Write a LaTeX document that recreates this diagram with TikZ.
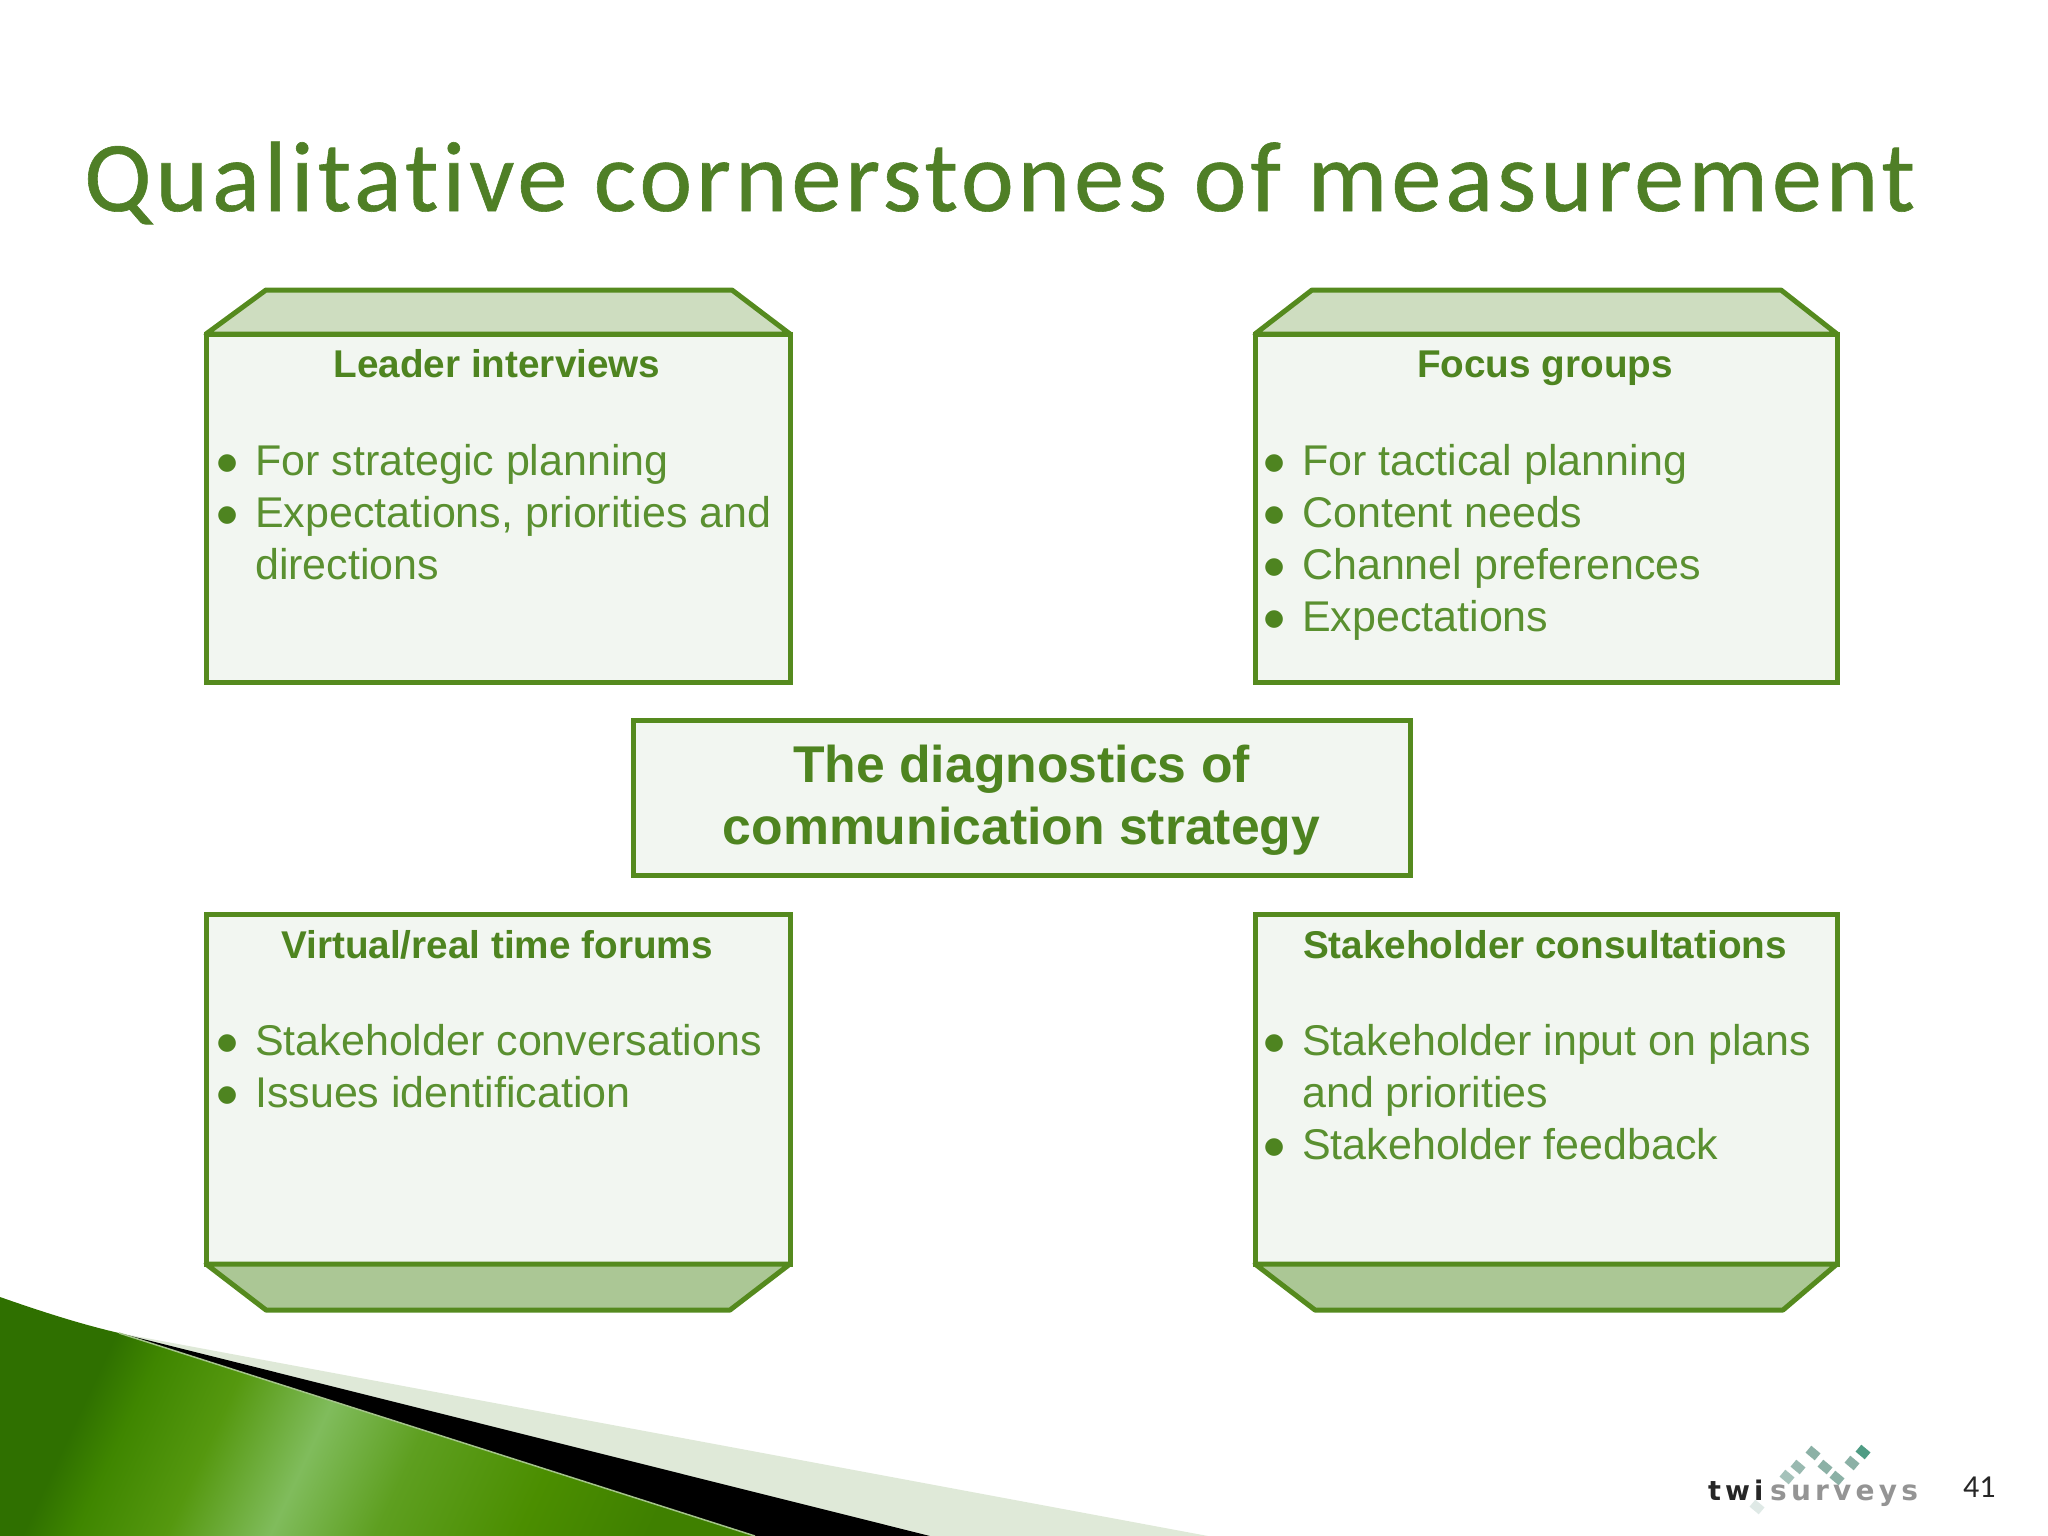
\documentclass[tikz,border=0pt]{standalone}
\usepackage{fontspec}
\setmainfont{Liberation Sans}
\newfontfamily\titlef[LetterSpace=4,Ligatures=NoCommon,FakeBold=0.6]{Carlito}
\newfontfamily\numf{Carlito}
\newfontfamily\logof[LetterSpace=15]{DejaVu Sans}
\newfontfamily\bulf{DejaVu Sans}
\definecolor{edgeg}{HTML}{558A1E}
\definecolor{boxfill}{HTML}{F2F6F1}
\definecolor{toptrap}{HTML}{CEDDC0}
\definecolor{bottrap}{HTML}{ABC795}
\definecolor{textg}{HTML}{5A9030}
\definecolor{headg}{HTML}{4E8420}
\definecolor{titleg}{HTML}{4F7F26}
\definecolor{paleband}{HTML}{DFE9D8}
\definecolor{sliver}{HTML}{A4C48A}
\definecolor{logodot}{HTML}{7FA89C}
\definecolor{logodk}{HTML}{4F9C84}
\definecolor{gA}{HTML}{2F7000}
\definecolor{gB}{HTML}{3F8600}
\definecolor{gC}{HTML}{55980F}
\definecolor{gD}{HTML}{80BC5C}
\definecolor{gE}{HTML}{5E9F20}
\definecolor{gF}{HTML}{4B8E00}
\definecolor{gG}{HTML}{3F8000}
\pgfdeclarehorizontalshading{gband}{100bp}{
 color(0bp)=(gA); color(27bp)=(gA);
 color(31bp)=(gB); color(38bp)=(gC);
 color(46bp)=(gD); color(54bp)=(gE);
 color(65bp)=(gF); color(75bp)=(gG); color(100bp)=(gG)}
\newcommand{\bl}[1]{\makebox[38pt][l]{\raisebox{6pt}[0pt][0pt]{\textcolor{headg}{\fontsize{23}{26}\selectfont\bulf ●}}}#1}
\newcommand{\nb}[1]{\hspace*{38pt}#1}
\newcommand{\listtext}[1]{\fontsize{43}{52}\selectfont\begin{tabular}[t]{@{}l@{}}#1\end{tabular}}
\tikzset{
 framebox/.style={draw=edgeg,line width=5pt,fill=boxfill,outer sep=0pt,inner sep=0pt},
 trap/.style={draw=edgeg,line width=5pt,line join=round},
 headtext/.style={anchor=base,text=headg,font=\fontsize{38.7}{46}\selectfont\bfseries,inner sep=0pt},
 listnode/.style={anchor=base west,text=textg,inner sep=0pt},
 logodotstyle/.style={fill=logodot,minimum width=12pt,minimum height=9pt,inner sep=0pt,rotate=-40}
}
\begin{document}
\begin{tikzpicture}[x=1pt,y=-1pt]
\useasboundingbox (0,0) rectangle (2048,1536);
% decorative corner
\fill[paleband] (119,1333) -- (1208,1536) -- (600,1536) -- cycle;
\fill[black] (119,1333) -- (930,1536) -- (700,1536) -- cycle;
\shade[shading=gband,shading angle=-25] (0,1297) .. controls (40,1311) and (80,1324) .. (119,1333) -- (755,1536) -- (0,1536) -- cycle;
\draw[sliver,line width=1.5pt] (119,1333) -- (755,1536);
% title
\node[anchor=base west,inner sep=0pt,text=titleg,font=\fontsize{100}{120}\selectfont\titlef] (title) at (84,211) {Qualitative cornerstones of measurement};
% boxes
\node[framebox,minimum width=584pt,minimum height=348pt] (lead) at (498,508) {};
\node[framebox,minimum width=582pt,minimum height=348pt] (focus) at (1546,508) {};
\node[framebox,minimum width=777pt,minimum height=155pt] (diag) at (1021.5,797.5) {};
\node[framebox,minimum width=584pt,minimum height=350pt] (virt) at (498,1089) {};
\node[framebox,minimum width=582pt,minimum height=350pt] (stake) at (1546,1089) {};
% bevels
\draw[trap,fill=toptrap] (lead.north west) -- ++(60,-44) -- ++(466,0) -- (lead.north east) -- cycle;
\draw[trap,fill=toptrap] (focus.north west) -- ++(57,-44) -- ++(469,0) -- (focus.north east) -- cycle;
\draw[trap,fill=bottrap] (virt.south west) -- ++(60,46) -- ++(464,0) -- (virt.south east) -- cycle;
\draw[trap,fill=bottrap] (stake.south west) -- ++(60,46) -- ++(468,0) -- (stake.south east) -- cycle;
% texts
\node[headtext] (leadh) at (497,377) {Leader interviews};
\node[listnode] (leadl) at (217,475) {\listtext{\bl{For strategic planning}\\ \bl{Expectations, priorities and}\\ \nb{directions}}};
\node[headtext] (focush) at (1545,377) {Focus groups};
\node[listnode] (focusl) at (1264,475) {\listtext{\bl{For tactical planning}\\ \bl{Content needs}\\ \bl{Channel preferences}\\ \bl{Expectations}}};
\node[anchor=base,text=headg,inner sep=0pt,align=center,font=\fontsize{51.7}{62}\selectfont\bfseries] (diagt) at (1021.5,782) {\begin{tabular}[t]{@{}c@{}}The diagnostics of\\ communication strategy\end{tabular}};
\node[headtext] (virth) at (497,958) {Virtual/real time forums};
\node[listnode] (virtl) at (217,1055) {\listtext{\bl{Stakeholder conversations}\\ \bl{Issues identification}}};
\node[headtext] (stakeh) at (1545,958) {Stakeholder consultations};
\node[listnode] (stakel) at (1264,1055) {\listtext{\bl{Stakeholder input on plans}\\ \nb{and priorities}\\ \bl{Stakeholder feedback}}};
% logo
\foreach \n/\x/\y/\o in {a/1757/1507/0.25,b/1787/1477/0.7,c/1798/1467/0.8,d/1813/1453/0.9,e/1825/1467/0.9,f/1837/1478/0.9,g/1852/1463/0.9}
 \node[logodotstyle,opacity=\o] (dot\n) at (\x,\y) {};
\node[logodotstyle,fill=logodk] (doth) at (1863,1452) {};
\node[anchor=base west,inner sep=0pt,text=black!85,font=\fontsize{27}{30}\selectfont\logof\bfseries] (twi) at (1708,1500) {twi};
\node[anchor=base west,inner sep=0pt,text=black!42,font=\fontsize{28}{30}\selectfont\logof\bfseries] (surveys) at (1770,1500) {surveys};
\node[anchor=base west,inner sep=0pt,text=black!85,font=\fontsize{32}{36}\selectfont\numf] (num) at (1963,1497) {41};
\end{tikzpicture}
\end{document}
